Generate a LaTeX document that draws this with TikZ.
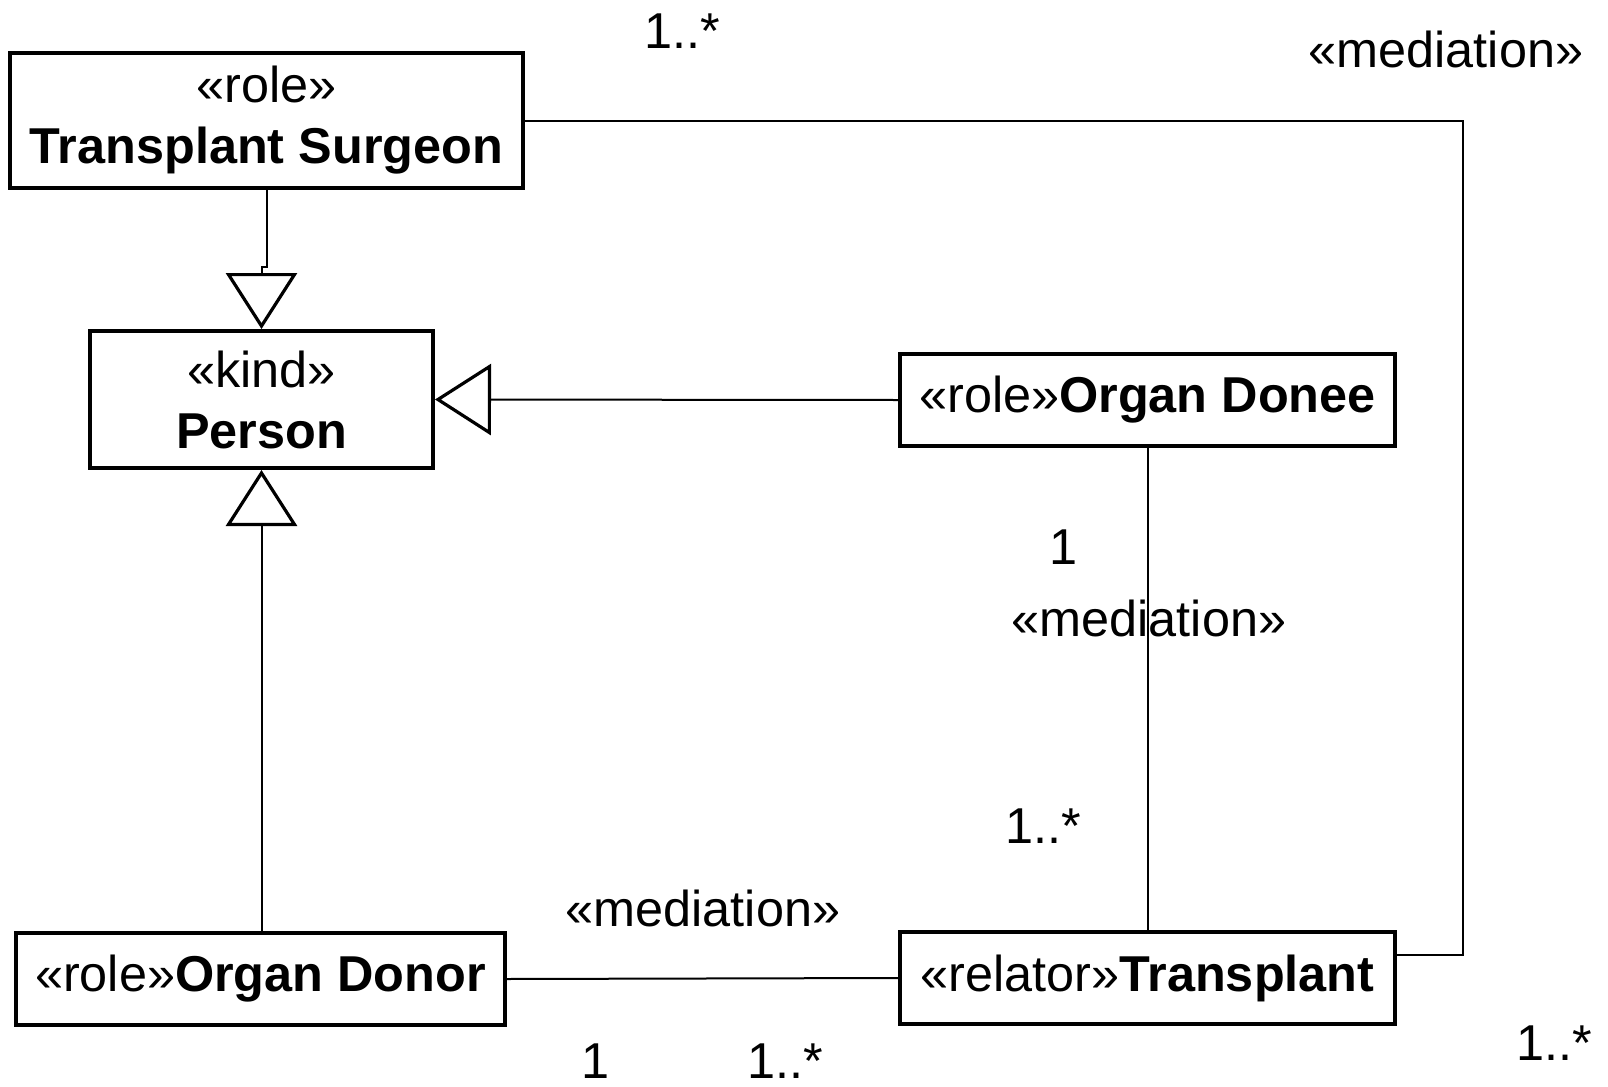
\documentclass[tikz,border=0pt]{standalone}
\usepackage{fontspec}
\setmainfont{Liberation Sans}
\usetikzlibrary{arrows.meta,calc}
\begin{document}
\begin{tikzpicture}[x=0.5pt,y=-0.5pt,
  txt/.style={font=\fontsize{25.2}{30.5}\selectfont},
  umlclass/.style={txt, draw, line width=2pt, inner sep=0pt, align=center},
  assoc/.style={line width=1pt},
  gen/.style={line width=1pt, -{Triangle[open,length=28pt,width=35.5pt,line width=1.6pt]}},
  lbl/.style={txt, inner sep=0pt},
]
\useasboundingbox (0,0) rectangle (1608,1087);

% classes
\node[umlclass, minimum width=256.5pt, minimum height=67.5pt] (surgeon) at (266.5,120.5)
  {«role»\\\textbf{Transplant Surgeon}};
\node[umlclass, minimum width=171.5pt, minimum height=68.5pt] (person) at (261.5,399.5)
  {«kind»\\\textbf{Person}};
\node[umlclass, minimum width=247.5pt, minimum height=46pt] (donee) at (1147.5,400)
  {«role»\textbf{Organ Donee}};
\node[umlclass, minimum width=244.5pt, minimum height=46pt] (donor) at (260.5,979)
  {«role»\textbf{Organ Donor}};
\node[umlclass, minimum width=247.5pt, minimum height=46pt] (transplant) at (1147.5,978)
  {«relator»\textbf{Transplant}};

% generalizations
\draw[gen] (surgeon.south) -- ++(0,77) -| (person.north);
\draw[gen] (donee.west) -- (person.east);
\draw[gen] (person.south |- donor.north) -- (person.south);

% mediations
\draw[assoc] (donor.east) -- (transplant.west);
\draw[assoc] (donee.south) -- (transplant.north);
\coordinate (tEnd) at ($(transplant.east)+(0,-23)$);
\coordinate (corner) at ($(tEnd)+(66,0)$);
\draw[assoc] (surgeon.east) -| (corner) -- (tEnd);

% association labels
\node[lbl] (m1) at (682,31) {1..*};
\node[lbl] (med1) at (1446,49) {«mediation»};
\node[lbl] (m2) at (1064,547) {1};
\node[lbl] (med2) at (1149,618) {«mediation»};
\node[lbl] (m3) at (1043,826) {1..*};
\node[lbl] (med3) at (703,908) {«mediation»};
\node[lbl] (m4) at (596,1061) {1};
\node[lbl] (m5) at (785,1061) {1..*};
\node[lbl] (m6) at (1554,1043) {1..*};
\end{tikzpicture}
\end{document}
